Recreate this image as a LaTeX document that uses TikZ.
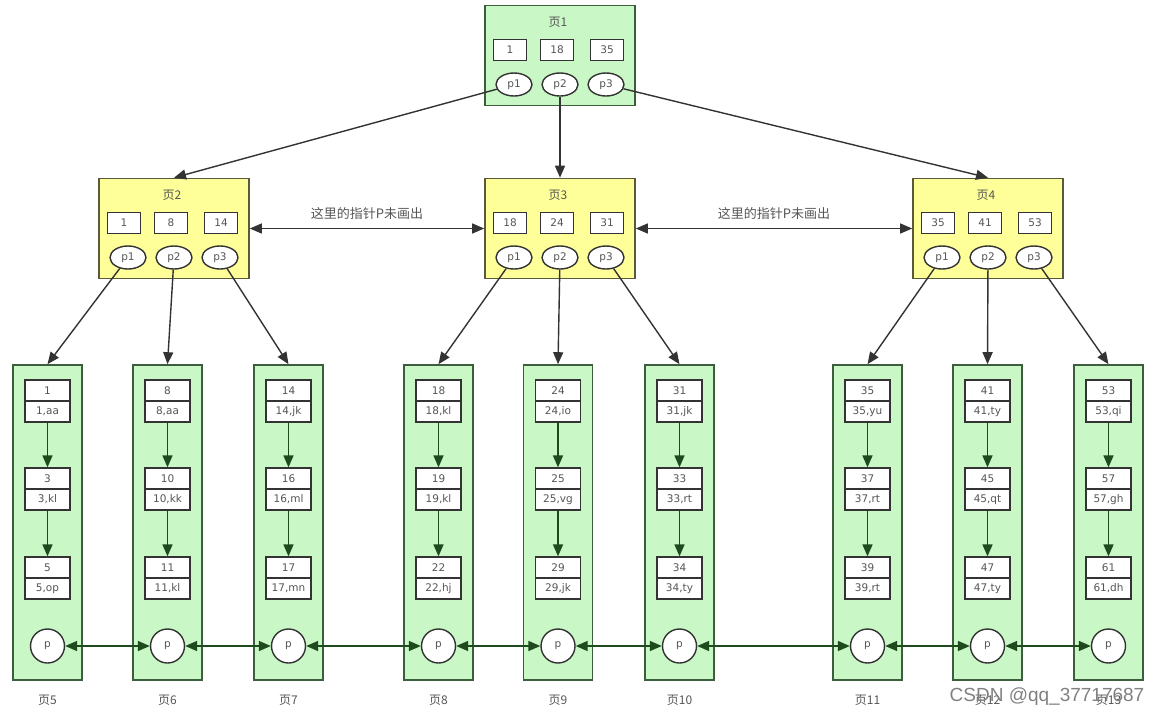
\documentclass[tikz,border=0pt]{standalone}
\usepackage{fontspec}
\setmainfont{DejaVu Sans}
\newfontfamily\cjk{Noto Sans CJK SC}
\newfontfamily\wmfont{Liberation Sans}
\usetikzlibrary{arrows.meta,positioning,shapes.geometric,calc}
\definecolor{leafgreen}{HTML}{C9F7C6}
\definecolor{leafline}{HTML}{3D5E3D}
\definecolor{pageyellow}{HTML}{FFFF99}
\definecolor{pageline}{HTML}{5A5A3A}
\definecolor{textgray}{HTML}{555555}
\definecolor{arrowgray}{HTML}{333333}
\definecolor{arrowgreen}{HTML}{1E4A1E}
\tikzset{
  every node/.style={text=textgray, font=\fontsize{10.5}{13}\selectfont},
  title/.style={font=\cjk\fontsize{12}{14}\selectfont},
  note/.style={font=\cjk\fontsize{13}{15}\selectfont},
  treepage/.style={draw, line width=1.6pt, minimum width=150, minimum height=100},
  leafpage/.style={draw=leafline, fill=leafgreen, line width=1.6pt,
    minimum width=69, minimum height=315},
  keybox/.style={draw=arrowgray, fill=white, line width=1.4pt,
    minimum width=33, minimum height=21, inner sep=0pt},
  ptr/.style={ellipse, draw=arrowgray, fill=white, line width=1.4pt,
    minimum width=36, minimum height=23, inner sep=0pt},
  cell/.style={draw=arrowgray, fill=white, line width=1.3pt,
    minimum width=45, minimum height=21, inner sep=0pt},
  nextp/.style={circle, draw=arrowgray, fill=white, line width=1.4pt,
    minimum size=34, inner sep=0pt},
  treearrow/.style={-{Triangle[length=12pt,width=10pt]}, line width=1.4pt, draw=arrowgray},
  sibling/.style={{Triangle[length=12pt,width=10pt]}-{Triangle[length=12pt,width=10pt]},
    line width=1.4pt, draw=arrowgray},
  chain/.style={-{Triangle[length=12pt,width=10pt]}, line width=1.6pt, draw=arrowgreen},
  link/.style={{Triangle[length=12pt,width=10pt]}-{Triangle[length=12pt,width=10pt]},
    line width=1.6pt, draw=arrowgreen},
}

\begin{document}
\begin{tikzpicture}[x=1pt, y=-1pt]
\useasboundingbox (0,0) rectangle (1161,718);

% root and middle pages
\foreach \n/\x/\y/\f/\d/\ka/\kb/\kc in {1/560/55.5/leafgreen/leafline/1/18/35,
    2/174/228.5/pageyellow/pageline/1/8/14, 3/560/228.5/pageyellow/pageline/18/24/31,
    4/988/228.5/pageyellow/pageline/35/41/53} {
  \node[treepage, fill=\f, draw=\d] (P\n) at (\x,\y) {};
  \node[title] (P\n-t) at ($(P\n)+(-2,-33)$) {页\n};
  \node[keybox] (P\n-k1) at ($(P\n)+(-50,-5.5)$) {\ka};
  \node[keybox] (P\n-k2) at ($(P\n)+(-3,-5.5)$) {\kb};
  \node[keybox] (P\n-k3) at ($(P\n)+(47,-5.5)$) {\kc};
  \node[ptr] (P\n-p1) at ($(P\n)+(-46,29)$) {p1};
  \node[ptr] (P\n-p2) at ($(P\n)+(0,29)$) {p2};
  \node[ptr] (P\n-p3) at ($(P\n)+(46,29)$) {p3};
}

% leaf pages
\foreach \n/\x/\ka/\va/\kb/\vb/\kc/\vc in {
    5/47.5/1/{1,aa}/3/{3,kl}/5/{5,op},
    6/167.5/8/{8,aa}/10/{10,kk}/11/{11,kl},
    7/288.5/14/{14,jk}/16/{16,ml}/17/{17,mn},
    8/438.5/18/{18,kl}/19/{19,kl}/22/{22,hj},
    9/558/24/{24,io}/25/{25,vg}/29/{29,jk},
    10/679.5/31/{31,jk}/33/{33,rt}/34/{34,ty},
    11/867.5/35/{35,yu}/37/{37,rt}/39/{39,rt},
    12/987.5/41/{41,ty}/45/{45,qt}/47/{47,ty},
    13/1108.5/53/{53,qi}/57/{57,gh}/61/{61,dh}} {
  \node[leafpage] (L\n) at (\x,522.5) {};
  \node[cell] (L\n-k1) at (\x,390.5) {\ka};
  \node[cell] (L\n-v1) at (\x,411.5) {\va};
  \node[cell] (L\n-k2) at (\x,478.5) {\kb};
  \node[cell] (L\n-v2) at (\x,499.5) {\vb};
  \node[cell] (L\n-k3) at (\x,567.5) {\kc};
  \node[cell] (L\n-v3) at (\x,588.5) {\vc};
  \node[nextp] (L\n-p) at (\x,646) {p};
  \node[title, below=11pt of L\n.south] (L\n-t) {页\n};
  \draw[chain] (L\n-v1) -- (L\n-k2);
  \draw[chain] (L\n-v2) -- (L\n-k3);
}

% tree pointers
\draw[treearrow] (P1-p1) -- (P2.north);
\draw[treearrow] (P1-p2) -- (P3.north);
\draw[treearrow] (P1-p3) -- (P4.north);
\draw[treearrow] (P2-p1) -- (L5.north);
\draw[treearrow] (P2-p2) -- (L6.north);
\draw[treearrow] (P2-p3) -- (L7.north);
\draw[treearrow] (P3-p1) -- (L8.north);
\draw[treearrow] (P3-p2) -- (L9.north);
\draw[treearrow] (P3-p3) -- (L10.north);
\draw[treearrow] (P4-p1) -- (L11.north);
\draw[treearrow] (P4-p2) -- (L12.north);
\draw[treearrow] (P4-p3) -- (L13.north);

\draw[sibling] (P2.east) -- node[note, above=5pt] (n23) {这里的指针P未画出} (P3.west);
\draw[sibling] (P3.east) -- node[note, above=5pt] (n34) {这里的指针P未画出} (P4.west);

% leaf links
\foreach \a/\b in {5/6,6/7,7/8,8/9,9/10,10/11,11/12,12/13}
  \draw[link] (L\a-p) -- (L\b-p);

\node[text=gray, font=\wmfont\fontsize{19}{22}\selectfont] (wm) at (1047,697) {CSDN @qq\_37717687};
\end{tikzpicture}
\end{document}
